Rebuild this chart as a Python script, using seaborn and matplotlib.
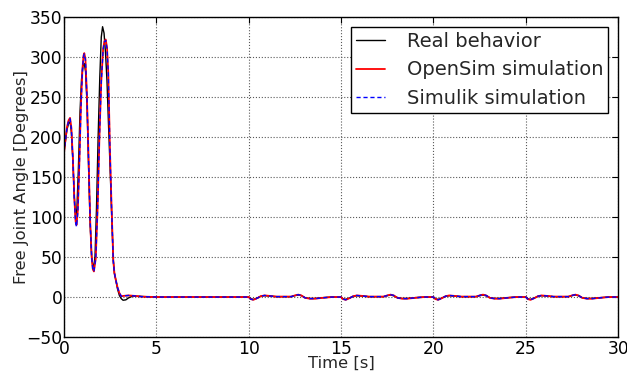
import matplotlib
matplotlib.use("Agg")
import matplotlib.pyplot as plt
import seaborn as sns
import pandas as pd

# ---- measured joint angle (real behaviour) ----
t_real = [0.00, 0.08, 0.16, 0.25, 0.33, 0.40, 0.48, 0.56, 0.63, 0.70, 0.78, 0.87,
          0.95, 1.03, 1.10, 1.17, 1.25, 1.33, 1.42, 1.50, 1.59, 1.68, 1.76, 1.85,
          1.94, 2.02, 2.09, 2.17, 2.25, 2.33, 2.42, 2.50, 2.58, 2.67, 2.73, 2.80,
          2.90, 3.00, 3.10, 3.20, 3.35, 3.50, 3.70, 4.00, 4.40, 5.00, 7.00, 9.50,
          10.00, 10.10, 10.25, 10.45, 10.65, 10.85, 11.10, 11.50, 12.30, 12.50, 12.68, 12.85,
          13.05, 13.30, 13.60, 14.00, 14.50, 15.00, 15.10, 15.25, 15.45, 15.65, 15.85, 16.10,
          16.50, 17.30, 17.50, 17.68, 17.85, 18.05, 18.30, 18.60, 19.00, 19.50, 20.00, 20.10,
          20.25, 20.45, 20.65, 20.85, 21.10, 21.50, 22.30, 22.50, 22.68, 22.85, 23.05, 23.30,
          23.60, 24.00, 24.50, 25.00, 25.10, 25.25, 25.45, 25.65, 25.85, 26.10, 26.50, 27.30,
          27.50, 27.68, 27.85, 28.05, 28.30, 28.60, 29.00, 29.50, 30.00]
real = [181, 195, 209, 217, 219, 207, 172, 125, 100, 110, 160, 232,
        272, 289, 292, 282, 240, 165, 90, 50, 34, 50, 110, 200,
        275, 325, 338, 330, 305, 270, 210, 160, 105, 46, 30, 22,
        10, 2, -2, -4, -3.5, -1, 1, 1, 0.5, 0, 0, 0,
        0, -2, -3, -1.5, 1, 1.8, 1.3, 0.5, 0.5, 1.8, 2.6, 1.8,
        -0.8, -1.8, -1.8, -0.8, 0, 0, -2.2, -3, -1.3, 0.8, 1.7, 1.3,
        0.5, 0.5, 1.8, 2.6, 1.6, -0.8, -1.8, -1.7, -0.8, 0, 0, -2.2,
        -3, -1.3, 0.8, 1.7, 1.3, 0.5, 0.5, 1.7, 2.5, 1.6, -0.8, -1.8,
        -1.7, -0.8, 0, 0, -2.2, -3, -1.3, 0.8, 1.7, 1.3, 0.5, 0.5,
        1.8, 2.6, 1.6, -0.8, -1.8, -1.7, -0.8, 0, 0]

# ---- OpenSim simulation ----
t_osim = [0.00, 0.08, 0.16, 0.25, 0.33, 0.40, 0.48, 0.56, 0.63, 0.68, 0.75, 0.83,
          0.92, 1.00, 1.06, 1.10, 1.16, 1.24, 1.33, 1.42, 1.50, 1.56, 1.62, 1.72,
          1.82, 1.92, 2.02, 2.12, 2.19, 2.26, 2.33, 2.40, 2.49, 2.58, 2.67, 2.73,
          2.80, 2.90, 3.00, 3.10, 3.25, 3.50, 3.80, 4.20, 5.00, 7.00, 9.50,
          10.00, 10.10, 10.25, 10.45, 10.65, 10.85, 11.10, 11.50, 12.30, 12.50, 12.68, 12.85,
          13.05, 13.30, 13.60, 14.00, 14.50, 15.00, 15.10, 15.25, 15.45, 15.65, 15.85, 16.10,
          16.50, 17.30, 17.50, 17.68, 17.85, 18.05, 18.30, 18.60, 19.00, 19.50, 20.00, 20.10,
          20.25, 20.45, 20.65, 20.85, 21.10, 21.50, 22.30, 22.50, 22.68, 22.85, 23.05, 23.30,
          23.60, 24.00, 24.50, 25.00, 25.10, 25.25, 25.45, 25.65, 25.85, 26.10, 26.50, 27.30,
          27.50, 27.68, 27.85, 28.05, 28.30, 28.60, 29.00, 29.50, 30.00]
osim = [180, 196, 212, 221, 224, 212, 175, 125, 95, 90, 108, 165,
        240, 285, 302, 305, 298, 255, 175, 95, 50, 35, 32, 48,
        110, 200, 270, 310, 320, 322, 312, 280, 184, 110, 46, 30,
        22, 12, 5, 1, 1.5, 2, 1.5, 0.5, 0, 0, 0,
        0, -2.5, -3.5, -1.5, 1, 2, 1.5, 0.5, 0.5, 2, 3, 2,
        -1, -2, -2, -1, 0, 0, -2.5, -3.5, -1.5, 1, 2, 1.5,
        0.5, 0.5, 2, 3, 2, -1, -2, -2, -1, 0, 0, -2.5,
        -3.5, -1.5, 1, 2, 1.5, 0.5, 0.5, 2, 3, 2, -1, -2,
        -2, -1, 0, 0, -2.5, -3.5, -1.5, 1, 2, 1.5, 0.5, 0.5,
        2, 3, 2, -1, -2, -2, -1, 0, 0]

# ---- Simulink simulation ----
t_simu = list(t_osim)
simu = [180, 196, 211, 220, 223, 211, 174, 123, 93, 88, 106, 163,
        238, 284, 301, 304, 297, 254, 174, 94, 50, 35, 32, 48,
        110, 199, 269, 309, 319, 321, 311, 279, 183, 109, 45, 30,
        22, 12, 5, 1, 1.5, 2, 1.5, 0.5, 0, 0, 0,
        0, -2.5, -3.5, -1.5, 1, 2, 1.5, 0.5, 0.5, 2, 3, 2,
        -1, -2, -2, -1, 0, 0, -2.5, -3.5, -1.5, 1, 2, 1.5,
        0.5, 0.5, 2, 3, 2, -1, -2, -2, -1, 0, 0, -2.5,
        -3.5, -1.5, 1, 2, 1.5, 0.5, 0.5, 2, 3, 2, -1, -2,
        -2, -1, 0, 0, -2.5, -3.5, -1.5, 1, 2, 1.5, 0.5, 0.5,
        2, 3, 2, -1, -2, -2, -1, 0, 0]

x_ticks = [0, 5, 10, 15, 20, 25, 30]
y_ticks = [-50, 0, 50, 100, 150, 200, 250, 300, 350]

sns.set_style("white")
plt.rcParams["font.family"] = ["DejaVu Sans"]
plt.rcParams["axes.unicode_minus"] = True

fig = plt.figure(figsize=(6.27, 3.72), dpi=100)
ax = fig.add_axes([0.102, 0.094, 0.884, 0.860])

df_real = pd.DataFrame({"t": t_real, "v": real})
df_osim = pd.DataFrame({"t": t_osim, "v": osim})
df_simu = pd.DataFrame({"t": t_simu, "v": simu})

sns.lineplot(data=df_real, x="t", y="v", ax=ax, color="black", lw=1.0,
             estimator=None, sort=False, label="Real behavior")
sns.lineplot(data=df_osim, x="t", y="v", ax=ax, color="red", lw=1.3,
             estimator=None, sort=False, label="OpenSim simulation")
sns.lineplot(data=df_simu, x="t", y="v", ax=ax, color="blue", lw=1.0,
             linestyle=(0, (3, 2)), estimator=None, sort=False,
             label="Simulik simulation")

ax.set_xlim(0, 30)
ax.set_ylim(-50, 350)
ax.set_xticks(x_ticks)
ax.set_yticks(y_ticks)
ax.tick_params(direction="in", top=True, right=True, length=4, width=0.8,
               labelsize=12.3, colors="black")
ax.tick_params(axis="x", pad=2)
ax.tick_params(axis="y", pad=1)
ax.grid(True, color="0.35", linestyle=":", linewidth=0.8)
for sp in ax.spines.values():
    sp.set_color("black")
    sp.set_linewidth(1.0)

ax.set_xlabel("Time [s]", fontsize=11.8, labelpad=-1.5)
ax.set_ylabel("Free Joint Angle [Degrees]", fontsize=11.8, labelpad=-1.5)

leg = ax.legend(loc="upper right", fontsize=14, frameon=True, fancybox=False,
                framealpha=1, edgecolor="black", handlelength=1.5,
                handletextpad=1.1, borderaxespad=0.5, labelspacing=0.47,
                borderpad=0.28)
leg.get_frame().set_linewidth(1.0)

fig.savefig("out.png", dpi=100)
